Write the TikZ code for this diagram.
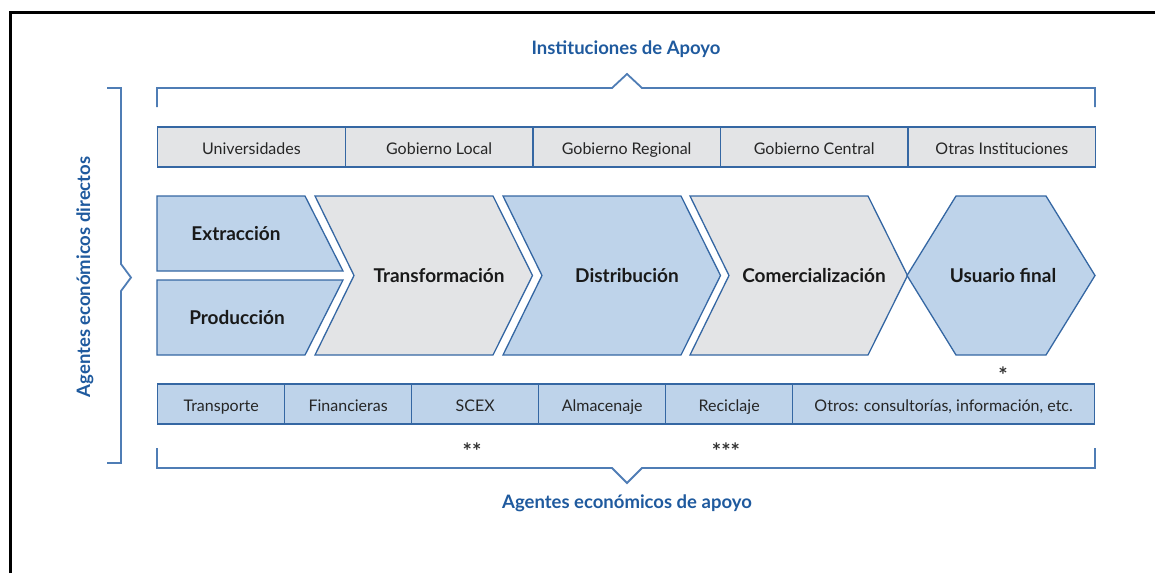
\documentclass[tikz,border=0pt]{standalone}
\usepackage{fontspec}
\setmainfont{Lato}
\usepackage{tikz}

\definecolor{borde}{HTML}{3567A3}
\definecolor{llave}{HTML}{4F7DB5}
\definecolor{azulfill}{HTML}{BED3EA}
\definecolor{grisfill}{HTML}{E3E4E6}
\definecolor{titulo}{HTML}{1F5A9E}

\tikzset{
  caja/.style={draw=borde, line width=1.3pt, minimum height=40pt, inner sep=0pt,
    anchor=west, text height=14pt, text depth=0pt, font=\fontsize{16}{18}\selectfont,
    text=black!85},
  etapa/.style={draw=borde, line width=1.3pt, line join=miter},
  etiq/.style={font=\fontsize{19}{21}\selectfont\bfseries, text=black!90},
  llaves/.style={draw=llave, line width=1.8pt},
  rotulo/.style={font=\fontsize{18.5}{20}\selectfont\bfseries, text=titulo},
  nota/.style={font=\fontsize{22}{24}\selectfont\bfseries, text=black!80}
}

\begin{document}
\begin{tikzpicture}[x=1pt, y=-1pt]
        \useasboundingbox (0,0) rectangle (1155,573);
        \draw[line width=2.5pt] (10.5,573) -- (10.5,12.5) -- (1155,12.5);

        % instituciones de apoyo
        \node[rotulo] (instit) at (626,49) {Instituciones de Apoyo};
        \draw[llaves] (157,107) -- (157,88) -- (612,88) -- (627,74)
          -- (642,88) -- (1095,88) -- (1095,107);
        \foreach \t [count=\i from 0] in {Universidades, Gobierno Local,
            Gobierno Regional, Gobierno Central, Otras Instituciones}
          \node[caja, fill=grisfill, minimum width=187.6pt] (inst\i)
            at (157+187.6*\i,147) {\t};

        % eslabones de la cadena
        \draw[etapa, fill=azulfill] (157,196) -- (305,196) -- (343,271) -- (157,271) -- cycle;
        \node[etiq] (extrac) at (236,234) {Extracción};
        \draw[etapa, fill=azulfill] (157,280) -- (343,280) -- (305,355) -- (157,355) -- cycle;
        \node[etiq] (produc) at (237,318) {Producción};
        \foreach \x/\f/\n/\t in {315/grisfill/transf/Transformación,
            503/azulfill/distrib/Distribución, 690/grisfill/comerc/Comercialización} {
          \draw[etapa, fill=\f] (\x,196) -- ++(178,0) -- ++(39.5,79.5) -- ++(-39.5,79.5)
            -- ++(-178,0) -- ++(39,-79.5) -- cycle;
          \node[etiq] (\n) at (\x+124,275.5) {\t};
        }
        \draw[etapa, fill=azulfill] (907,275.5) -- (956,196) -- (1046,196) -- (1095,275.5)
          -- (1046,355) -- (956,355) -- cycle;
        \node[etiq] (usuario) at (1003,275.5) {Usuario final};
        \node[nota] (ast1) at (1003,375) {*};

        % agentes economicos de apoyo
        \foreach \t [count=\i from 0] in {Transporte, Financieras, SCEX, Almacenaje, Reciclaje}
          \node[caja, fill=azulfill, minimum width=127pt] (apoyo\i) at (157+127*\i,404) {\t};
        \node[caja, fill=azulfill, minimum width=302pt] (otros) at (792,404)
          {Otros: consultorías, información, etc.};
        \node[nota] (ast2) at (472,451) {**};
        \node[nota] (ast3) at (726,451) {***};
        \draw[llaves] (157,448) -- (157,468) -- (612,468) -- (627,483)
          -- (642,468) -- (1095,468) -- (1095,448);
        \node[rotulo] (agapoyo) at (627,503) {Agentes económicos de apoyo};

        % agentes economicos directos
        \draw[llaves] (107,88) -- (121,88) -- (121,264) -- (131,277.5)
          -- (121,291) -- (121,463) -- (107,463);
        \node[rotulo, rotate=90] (directos) at (85,277) {Agentes económicos directos};
      \end{tikzpicture}
\end{document}
